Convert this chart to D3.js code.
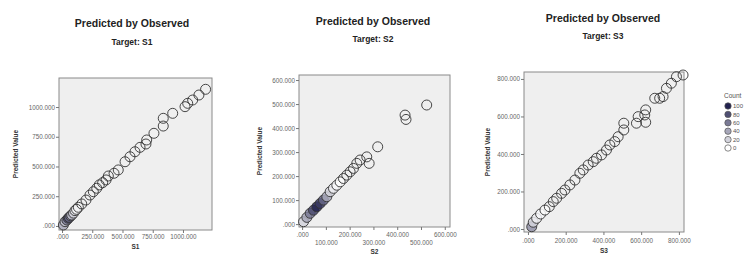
<!DOCTYPE html>
<html>
<head>
	<meta charset="utf-8">
	<title></title>
	<style>
		body { margin: 0; background: #fff; }
		text { font-family: "Liberation Sans", Arial, sans-serif; }
	</style>
</head>
<body>
	<svg id="container" width="748" height="269"></svg>
</body>
<script src="https://d3js.org/d3.v7.min.js"></script>
<script>
	// values are in thousands
	let s1Observed  = [11, 25, 40, 52, 60, 72, 80, 95, 107, 120, 135, 163, 198, 231, 259, 287, 308, 336, 364, 383, 430, 465, 521, 562, 603, 645, 694, 700, 760, 837, 837, 915, 1017, 1039, 1080, 1132, 1187]
	let s1Predicted = [8, 36, 50, 65, 72, 85, 92, 108, 129, 140, 157, 185, 218, 260, 288, 317, 345, 364, 387, 420, 443, 471, 540, 582, 624, 661, 689, 723, 779, 840, 905, 947, 1003, 1031, 1059, 1101, 1149]
	let s1Count     = [40, 30, 60, 80, 70, 50, 30, 20, 10, 5, 1, 1, 1, 1, 1, 1, 1, 1, 1, 1, 1, 1, 1, 1, 1, 1, 1, 1, 1, 1, 1, 1, 1, 1, 1, 1, 1]

	let s2Observed  = [6, 20, 34, 48, 62, 76, 90, 104, 118, 132, 146, 160, 174, 188, 202, 216, 230, 244, 272, 282, 318, 433, 437, 524]
	let s2Predicted = [10, 28, 45, 58, 72, 86, 100, 114, 135, 149, 162, 176, 190, 204, 218, 232, 253, 267, 280, 253, 322, 454, 436, 496]
	let s2Count     = [20, 40, 60, 80, 100, 90, 70, 40, 20, 8, 4, 2, 1, 1, 1, 1, 1, 1, 1, 1, 1, 1, 1, 1]

	let s3Observed  = [20, 28, 46, 67, 90, 113, 134, 152, 178, 196, 222, 249, 275, 293, 319, 346, 363, 390, 416, 434, 460, 478, 508, 508, 575, 584, 624, 619, 624, 672, 698, 716, 734, 760, 787, 822]
	let s3Predicted = [12, 36, 57, 80, 101, 119, 146, 164, 190, 208, 235, 261, 297, 315, 341, 359, 377, 395, 421, 448, 466, 492, 528, 564, 564, 599, 569, 608, 635, 697, 697, 706, 750, 777, 812, 821]
	let s3Count     = [50, 20, 8, 4, 2, 1, 1, 1, 1, 1, 1, 1, 1, 1, 1, 1, 1, 1, 1, 1, 1, 1, 1, 1, 1, 1, 1, 1, 1, 1, 1, 1, 1, 1, 1, 1]

	let s1Ticks = [0, 250, 500, 750, 1000]
	let s2Ticks = [0, 100, 200, 300, 400, 500, 600]
	let s3Ticks = [0, 200, 400, 600, 800]

	let legendCounts = [100, 80, 60, 40, 20, 0]

	let svg = d3.select("#container")

	// SPSS style numbers: 0 -> ".000", 250 -> "250.000"
	let fmt = v => d3.format(".3f")(v).replace(/^0\./, ".")

	let countColor = d3.scaleLinear()
		.domain([0, 100])
		.range(["#ffffff", "#22224f"])

	let panels = [
		{ target: "S1", obs: s1Observed, pred: s1Predicted, count: s1Count, ticks: s1Ticks,
		  x0: 59, x1: 212, y0: 78, y1: 230, xDom: [-25, 1240], yDom: [-34, 1244],
		  titleX: 132, titleY: 27, subY: 45, yTitleX: 18, xTitleY: 249, tickY: 239, stagger: false },
		{ target: "S2", obs: s2Observed, pred: s2Predicted, count: s2Count, ticks: s2Ticks,
		  x0: 299, x1: 450, y0: 75, y1: 227, xDom: [-13, 622], yDom: [-12, 621],
		  titleX: 373, titleY: 25, subY: 42, yTitleX: 262, xTitleY: 254, tickY: 237, stagger: true },
		{ target: "S3", obs: s3Observed, pred: s3Predicted, count: s3Count, ticks: s3Ticks,
		  x0: 524, x1: 684, y0: 72, y1: 232, xDom: [-21, 827], yDom: [-16, 837],
		  titleX: 603, titleY: 22, subY: 39, yTitleX: 490, xTitleY: 253, tickY: 243, stagger: false }
	]

	panels.forEach(p => {
		let g = svg.append("g")

		let x = d3.scaleLinear().domain(p.xDom).range([p.x0, p.x1])
		let y = d3.scaleLinear().domain(p.yDom).range([p.y1, p.y0])

		g.append("text")
			.attr("x", p.titleX).attr("y", p.titleY)
			.attr("text-anchor", "middle")
			.attr("font-size", "10.5px").attr("font-weight", "bold")
			.attr("fill", "#222")
			.text("Predicted by Observed")

		g.append("text")
			.attr("x", p.titleX).attr("y", p.subY)
			.attr("text-anchor", "middle")
			.attr("font-size", "8.5px").attr("font-weight", "bold")
			.attr("fill", "#222")
			.text("Target: " + p.target)

		// plot frame
		g.append("rect")
			.attr("x", p.x0).attr("y", p.y0)
			.attr("width", p.x1 - p.x0).attr("height", p.y1 - p.y0)
			.attr("fill", "#efefef")
			.attr("stroke", "#8a8a8a")
			.attr("stroke-width", 1)

		let yAxis = g.append("g")
			.attr("transform", `translate(${p.x0},0)`)
			.call(d3.axisLeft(y).tickValues(p.ticks).tickFormat(fmt).tickSize(3).tickPadding(1))
		yAxis.select(".domain").remove()
		yAxis.selectAll("line").attr("stroke", "#777")
		yAxis.selectAll("text").attr("font-size", "6.3px").attr("fill", "#666").attr("font-family", null)

		let xAxis = g.append("g")
			.attr("transform", `translate(0,${p.y1})`)
			.call(d3.axisBottom(x).tickValues(p.ticks).tickFormat(fmt).tickSize(3))
		xAxis.select(".domain").remove()
		xAxis.selectAll("line").attr("stroke", "#777")
		xAxis.selectAll("text")
			.attr("font-size", "6.3px").attr("fill", "#666").attr("font-family", null)
			.attr("dy", null)
			.attr("y", (d, i) => p.tickY - p.y1 + (p.stagger && i % 2 == 1 ? 8 : 0))

		g.append("text")
			.attr("transform", `translate(${p.yTitleX},${(p.y0 + p.y1) / 2}) rotate(-90)`)
			.attr("text-anchor", "middle")
			.attr("font-size", "6.5px").attr("font-weight", "bold")
			.attr("fill", "#333")
			.text("Predicted Value")

		g.append("text")
			.attr("x", (p.x0 + p.x1) / 2).attr("y", p.xTitleY)
			.attr("text-anchor", "middle")
			.attr("font-size", "6.5px").attr("font-weight", "bold")
			.attr("fill", "#333")
			.text(p.target)

		let pts = p.obs.map((v, i) => ({ obs: v, pred: p.pred[i], count: p.count[i] }))

		g.selectAll("circle.pt")
			.data(pts)
			.enter().append("circle")
			.attr("class", "pt")
			.attr("cx", d => x(d.obs))
			.attr("cy", d => y(d.pred))
			.attr("r", 5)
			.attr("fill", d => d.count > 1 ? countColor(d.count) : "none")
			.attr("fill-opacity", 0.85)
			.attr("stroke", "#333")
			.attr("stroke-width", 0.9)
	})

	// legend
	let legend = svg.append("g")
	legend.append("text")
		.attr("x", 724).attr("y", 98)
		.attr("font-size", "6.5px").attr("fill", "#555")
		.text("Count")

	let ly = d3.scalePoint().domain(legendCounts).range([106, 148])

	legend.selectAll("circle")
		.data(legendCounts)
		.enter().append("circle")
		.attr("cx", 728)
		.attr("cy", d => ly(d))
		.attr("r", 3.2)
		.attr("fill", d => countColor(d))
		.attr("stroke", "#555")
		.attr("stroke-width", 0.7)

	legend.selectAll("text.lab")
		.data(legendCounts)
		.enter().append("text")
		.attr("class", "lab")
		.attr("x", 733)
		.attr("y", d => ly(d) + 2.2)
		.attr("font-size", "6px").attr("fill", "#555")
		.text(d => d)
</script>
</html>
